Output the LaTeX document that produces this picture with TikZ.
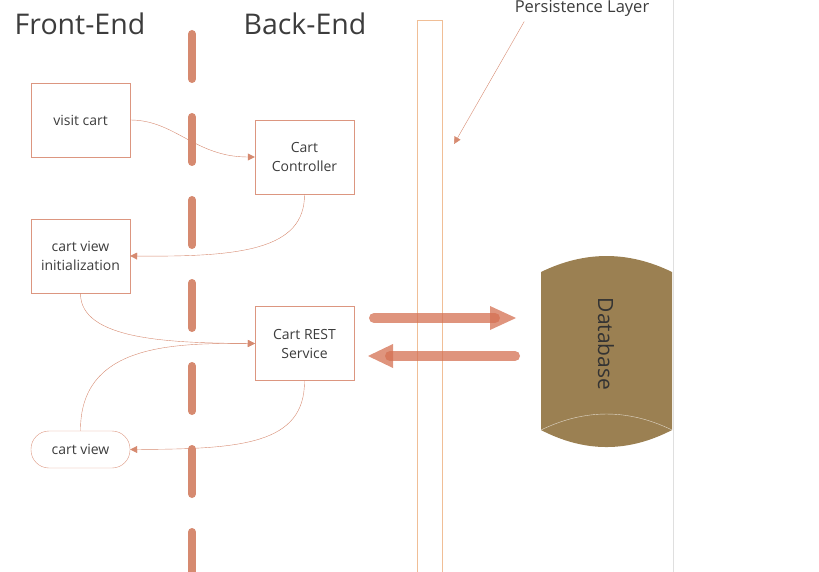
\documentclass[tikz,border=0pt]{standalone}
\usepackage{fontspec}
\setmainfont{Open Sans}
\usetikzlibrary{arrows.meta}

\definecolor{salmon}{RGB}{214,138,112}
\definecolor{boxline}{RGB}{220,150,128}
\definecolor{layerline}{RGB}{240,190,150}
\definecolor{fatcol}{RGB}{212,112,82}
\definecolor{dbfill}{RGB}{155,128,82}
\definecolor{txt}{RGB}{60,60,60}

\tikzset{
  box/.style={draw=boxline,thin,minimum width=99pt,minimum height=74pt,align=center,
    text=txt,font=\fontsize{14}{19}\selectfont},
  pill/.style={box,minimum height=37pt,rounded corners=18pt},
  conn/.style={draw=salmon,thin,-{Triangle[length=7pt,width=7pt]}},
  fatshaft/.style={draw=fatcol,opacity=0.75,line width=10pt,line cap=round},
  fathead/.style={fill=fatcol,opacity=0.75},
  title/.style={text=txt,font=\fontsize{28.5}{31}\selectfont}
}

\begin{document}
\begin{tikzpicture}[x=1pt,y=-1pt]
  \useasboundingbox (0,0) rectangle (819,572);
  % slide edge
  \draw[gray!25,thin] (673,0) -- (673,572);
  % divider between front and back
  \draw[salmon,line width=8pt,line cap=round,dash pattern=on 45pt off 38pt] (192,34) -- (192,572);
  % persistence layer
  \draw[layerline,thin] (417,572) -- (417,20) -- (442,20) -- (442,572);
  \node[title] (front) at (80,24) {Front-End};
  \node[title] (back) at (305,24) {Back-End};
  \node[text=txt,font=\fontsize{16.5}{18}\selectfont] (plabel) at (582,8) {Persistence Layer};
  \coordinate (ptip) at (454,144);
  \draw[conn] ([xshift=13pt,yshift=-2pt]plabel.south west) -- (ptip);

  % nodes
  \node[box] (visit) at (80.5,120) {visit cart};
  \node[box] (ctrl) at (304.5,157) {Cart\\Controller};
  \node[box] (init) at (80.5,256) {cart view\\initialization};
  \node[box] (rest) at (304.5,343.5) {Cart REST\\Service};
  \node[pill] (view) at (80.5,449.5) {cart view};

  % flow
  \draw[conn] (visit.east) .. controls (175,120) and (195,157) .. (ctrl.west);
  \draw[conn] (ctrl.south) .. controls (305,250) and (240,257) .. (init.east);
  \draw[conn] (init.south) .. controls (80,340) and (170,343) .. (rest.west);
  \draw[conn] (view.north) .. controls (80,345) and (170,343) .. (rest.west);
  \draw[conn] (rest.south) .. controls (305,445) and (240,449) .. (view.east);

  % database
  \fill[dbfill] (541,272) .. controls (584.7,250.7) and (628.3,250.7) .. (672,272) -- (672,430)
    .. controls (628.3,452.7) and (584.7,452.7) .. (541,430) -- cycle;
  \draw[white!70!dbfill,thin] (541,430) .. controls (584.7,408.7) and (628.3,408.7) .. (672,430);
  \node[rotate=-90,text=black!80,font=\fontsize{21}{24}\selectfont] (db) at (606,344) {Database};

  % traffic to and from the database
  \draw[fatshaft] (374,318) -- (495,318);
  \fill[fathead] (490,306) -- (516,318) -- (490,330) -- cycle;
  \draw[fatshaft] (515,356) -- (390,356);
  \fill[fathead] (393,344) -- (368,356) -- (393,368) -- cycle;
\end{tikzpicture}
\end{document}
